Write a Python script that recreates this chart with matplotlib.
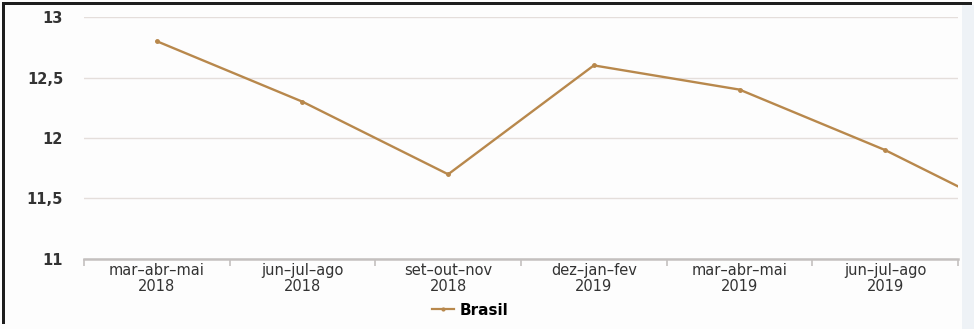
import numpy as np
import matplotlib
matplotlib.use("Agg")
import matplotlib.pyplot as plt
from matplotlib.lines import Line2D
from matplotlib.patches import Rectangle
from matplotlib.ticker import FuncFormatter

plt.rcParams["font.family"] = ["DejaVu Sans"]

# data (last quarter is cut off at the right edge)
periods = ["mar–abr–mai\n2018", "jun–jul–ago\n2018", "set–out–nov\n2018",
           "dez–jan–fev\n2019", "mar–abr–mai\n2019", "jun–jul–ago\n2019",
           "set–out–nov\n2019"]
brasil = [12.8, 12.3, 11.7, 12.6, 12.4, 11.9, 11.3]
y_ticks = [11, 11.5, 12, 12.5, 13]
n_shown = 6

LINE = "#b8884c"
GRID = "#e4dedb"
AXIS = "#c4c0bf"
TEXT = "#333333"

fig = plt.figure(figsize=(9.74, 3.29), dpi=100)
fig.patch.set_facecolor("#fdfdfd")
ax = fig.add_axes([0.0862, 0.2128, 0.8974, 0.7355])
ax.set_facecolor("#fdfdfd")

x = np.arange(len(brasil))
ax.plot(x, brasil, color=LINE, linewidth=1.7, marker="o", markersize=2.5,
        zorder=3, label="Brasil")

ax.set_xlim(-0.5, n_shown - 0.5)
ax.set_ylim(11, 13)

ax.set_yticks(y_ticks)
ax.yaxis.set_major_formatter(FuncFormatter(lambda v, p: f"{v:g}".replace(".", ",")))
ax.grid(axis="y", color=GRID, linewidth=1.0, zorder=0)
ax.tick_params(axis="y", length=0, pad=15, labelsize=10.5, labelcolor=TEXT)
for lab in ax.get_yticklabels():
    lab.set_fontweight("bold")

ax.set_xticks(x[:n_shown])
ax.set_xticklabels(periods[:n_shown], fontsize=10.5, color=TEXT, linespacing=1.05)
ax.set_xticks(np.arange(-0.5, n_shown), minor=True)
ax.tick_params(axis="x", which="major", length=0, pad=3)
ax.tick_params(axis="x", which="minor", length=5, width=1.2, color=AXIS)

for s in ["top", "right", "left"]:
    ax.spines[s].set_visible(False)
ax.spines["bottom"].set_color(AXIS)
ax.spines["bottom"].set_linewidth(1.8)

fig.legend(handles=[Line2D([], [], color=LINE, linewidth=1.6, marker="o", markersize=2)],
           labels=["Brasil"], loc="center", bbox_to_anchor=(0.483, 0.057),
           frameon=False, handlelength=1.4, handletextpad=0.4,
           prop={"weight": "bold", "size": 11})

# screenshot frame: dark border left/top, faint strip on the right
fig.add_artist(Rectangle((0.002, 0.015), 0.0035, 0.98, transform=fig.transFigure,
                         color="#1e1e1e", lw=0))
fig.add_artist(Rectangle((0.002, 0.986), 0.996, 0.009, transform=fig.transFigure,
                         color="#1e1e1e", lw=0))
fig.add_artist(Rectangle((0.988, 0.0), 0.012, 0.986, transform=fig.transFigure,
                         color="#eef2f6", lw=0))

fig.savefig("out.png", dpi=100, facecolor=fig.get_facecolor())
